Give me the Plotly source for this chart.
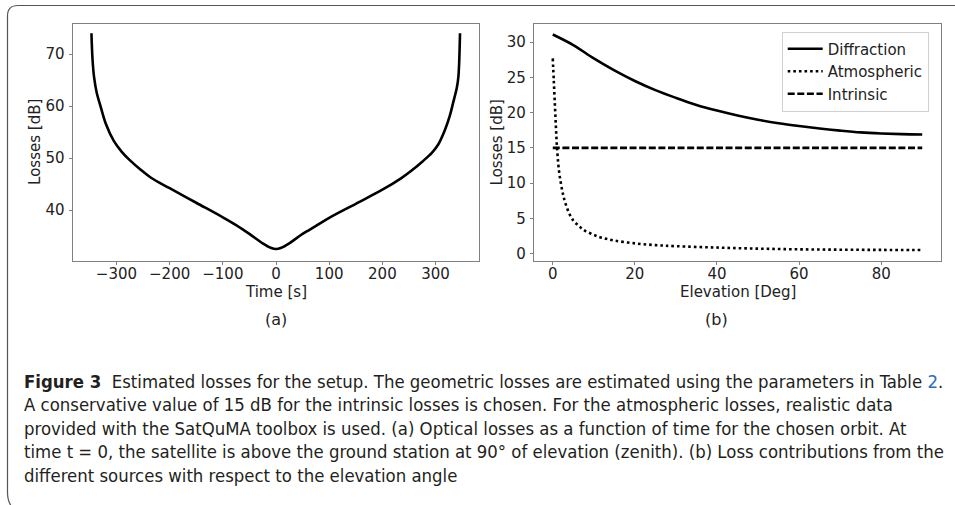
import plotly.graph_objects as go

# ---------------- data ----------------
time_s = [-347, -345, -342, -337, -330, -320, -305, -290, -275, -255, -235, -200, -150, -100, -75, -50, -25, -10, 0,
          10, 25, 50, 76, 100, 150, 200, 235, 255, 275, 293, 305, 318, 327, 333, 340, 343, 346]
losses_time = [74.0, 69.0, 65.5, 62.5, 60.0, 56.6, 53.3, 51.2, 49.6, 47.8, 46.2, 44.2, 41.4, 38.6, 37.1, 35.4, 33.6, 32.75, 32.5,
               32.75, 33.6, 35.4, 37.0, 38.5, 41.2, 43.9, 46.1, 47.6, 49.3, 51.0, 52.6, 55.5, 58.2, 60.6, 63.5, 65.7, 74.0]

elev_diff = [0, 5, 10, 15, 20, 25, 30, 35, 40, 45, 50, 55, 60, 65, 70, 75, 80, 85, 90]
diffraction = [31.1, 29.6, 27.7, 26.0, 24.5, 23.2, 22.1, 21.1, 20.3, 19.6, 19.0, 18.5, 18.1, 17.75, 17.45, 17.2, 17.05, 16.95, 16.9]

elev_atm = [0, 0.25, 0.5, 0.75, 1, 1.5, 2, 2.5, 3, 4, 5, 6, 7, 8, 10, 12, 15, 20, 25, 30, 40, 50, 60, 70, 80, 90]
atmospheric = [27.7, 24.5, 21.3, 18.2, 15.3, 11.8, 9.9, 8.4, 7.3, 5.7, 4.7, 4.1, 3.6, 3.2, 2.65, 2.25, 1.85, 1.45, 1.2, 1.05,
               0.85, 0.7, 0.6, 0.55, 0.52, 0.5]

elev_intr = [0, 90]
intrinsic = [15, 15]

time_ticks = [-300, -200, -100, 0, 100, 200, 300]
time_tick_text = ["\u2212300", "\u2212200", "\u2212100", "0", "100", "200", "300"]
loss_ticks_a = [40, 50, 60, 70]
loss_ticks_b = [0, 5, 10, 15, 20, 25, 30]
elev_ticks = [0, 20, 40, 60, 80]

caption_lines = [
    "<b>Figure 3</b>  Estimated losses for the setup. The geometric losses are estimated using the parameters in Table <span style='color:#2a6ebb'>2</span>.",
    "A conservative value of 15 dB for the intrinsic losses is chosen. For the atmospheric losses, realistic data",
    "provided with the SatQuMA toolbox is used. (a) Optical losses as a function of time for the chosen orbit. At",
    "time t = 0, the satellite is above the ground station at 90\u00b0 of elevation (zenith). (b) Loss contributions from the",
    "different sources with respect to the elevation angle",
]

# ---------------- layout helpers ----------------
W, H = 955, 505
def fx(x):
    return x / W
def fy(y):
    return 1 - y / H

FONT = "DejaVu Sans"
FS = 15
TXT = "#222222"
SPINE = "#808080"

fig = go.Figure()
fig.add_trace(go.Scatter(x=time_s, y=losses_time, mode="lines", line=dict(color="black", width=2.6, shape="spline"),
                         xaxis="x", yaxis="y", showlegend=False))
fig.add_trace(go.Scatter(x=elev_diff, y=diffraction, mode="lines", name="Diffraction",
                         line=dict(color="black", width=2.6, shape="spline"), xaxis="x2", yaxis="y2"))
fig.add_trace(go.Scatter(x=elev_atm, y=atmospheric, mode="lines", name="Atmospheric",
                         line=dict(color="black", width=2.6, dash="2.6px,3px", shape="spline"), xaxis="x2", yaxis="y2"))
fig.add_trace(go.Scatter(x=elev_intr, y=intrinsic, mode="lines", name="Intrinsic",
                         line=dict(color="black", width=2.6, dash="7px,2.6px"), xaxis="x2", yaxis="y2"))

axis_common = dict(showline=True, mirror=True, linecolor=SPINE, linewidth=1, ticks="outside", ticklen=3.5,
                   tickwidth=1, tickcolor=SPINE, showgrid=False, zeroline=False,
                   tickfont=dict(family=FONT, size=FS, color=TXT))

fig.update_layout(
    width=W, height=H, margin=dict(l=0, r=0, t=0, b=0),
    paper_bgcolor="white", plot_bgcolor="white",
    xaxis=dict(domain=[fx(73), fx(479)], range=[-381.7, 381.7], tickvals=time_ticks, ticktext=time_tick_text,
               anchor="y", ticklabelstandoff=-4, **axis_common),
    yaxis=dict(domain=[fy(262), fy(24)], range=[30.2, 75.8], tickvals=loss_ticks_a, anchor="x",
               ticklabelstandoff=1, **axis_common),
    xaxis2=dict(domain=[fx(534.3), fx(940.7)], range=[-4.5, 94.5], tickvals=elev_ticks, anchor="y2",
                ticklabelstandoff=-4, **axis_common),
    yaxis2=dict(domain=[fy(262), fy(24)], range=[-1.05, 32.6], tickvals=loss_ticks_b, anchor="x2",
                ticklabelstandoff=1, **axis_common),
    legend=dict(x=fx(781.7), y=fy(31.7), xanchor="left", yanchor="top", bgcolor="rgba(255,255,255,0.8)",
                bordercolor="#d0d0d0", borderwidth=1, font=dict(family=FONT, size=FS, color=TXT), itemwidth=35),
    showlegend=True,
)

ann = []
def add_text(x, y, text, size=FS, angle=0, xanchor="center", family=FONT, color=TXT, pad=1):
    ann.append(dict(x=fx(x), y=fy(y), xref="paper", yref="paper", text=text, showarrow=False, textangle=angle,
                    xanchor=xanchor, yanchor="middle", borderpad=pad,
                    font=dict(family=family, size=size, color=color)))

add_text(276, 293, "Time [s]", pad=0)
add_text(737.5, 293, "Elevation [Deg]", pad=0)
add_text(35.5, 143, "Losses [dB]", angle=-90, pad=0)
add_text(497, 143, "Losses [dB]", angle=-90, pad=0)
add_text(276, 321, "(a)", size=16)
add_text(716, 321, "(b)", size=16)

cap_font = "Liberation Sans Narrow, DejaVu Sans Condensed, Arial Narrow, sans-serif"
cap_y = [383, 406.5, 430, 453.5, 477]
for yy, line in zip(cap_y, caption_lines):
    add_text(23, yy, line, size=18.4, xanchor="left", family=cap_font, color="#231f20", pad=0)

fig.update_layout(annotations=ann)

# frame around the figure (top and left edges with rounded corners)
path = (f"M {fx(960)},{fy(5.5)} L {fx(18)},{fy(5.5)} Q {fx(7.5)},{fy(5.5)} {fx(7.5)},{fy(16)} "
        f"L {fx(7.5)},{fy(494)} Q {fx(7.5)},{fy(505)} {fx(13)},{fy(510)}")
fig.add_shape(type="path", path=path, xref="paper", yref="paper", line=dict(color="#555555", width=1.2))

fig.write_html("out.html", config={"displayModeBar": False},
               post_script="document.body.style.margin='0';document.body.style.overflow='hidden';")
